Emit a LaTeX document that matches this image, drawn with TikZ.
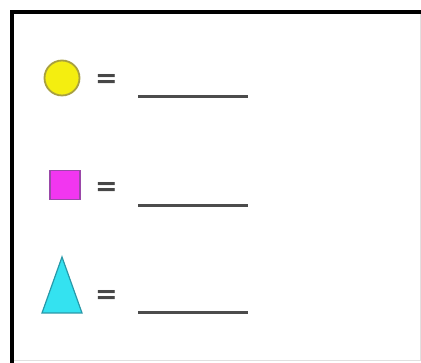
\documentclass[tikz,border=0pt]{standalone}
\usepackage{fontspec}
\usepackage{tikz}
\usetikzlibrary{positioning}
\newfontfamily\eqfont{DejaVu Sans}
\definecolor{dotfill}{HTML}{F4EE10}
\definecolor{dotline}{HTML}{A8A040}
\definecolor{boxfill}{HTML}{F236F0}
\definecolor{boxline}{HTML}{9A48A8}
\definecolor{conefill}{HTML}{34E2F0}
\definecolor{coneline}{HTML}{2898A8}
\tikzset{
  keyframe/.style={line width=4pt, black},
  eqsign/.style={inner sep=0pt, font=\eqfont\bfseries\fontsize{27}{27}\selectfont, text=black!72},
  blank/.style={line width=3pt, black!70},
}

\begin{document}
\begin{tikzpicture}[x=1pt, y=-1pt]
\useasboundingbox (0,0) rectangle (421,363);
% frame
\draw[black!12, line width=1pt] (420,12.5) -- (420,361) -- (12,361);
\draw[keyframe] (12,363) -- (12,12.5) -- (421,12.5);
% key shapes
\node[circle, draw=dotline, fill=dotfill, line width=1.8pt, minimum size=35pt, inner sep=0pt] (dot) at (62,78) {};
\node[rectangle, draw=boxline, fill=boxfill, line width=1.2pt, minimum width=30pt, minimum height=29pt, inner sep=0pt] (box) at (65,185) {};
\draw[coneline, fill=conefill, line width=1.2pt] (42,313) coordinate (coneL) -- (62,257) coordinate (coneT) -- (82,313) coordinate (coneR) -- cycle;
% equals signs
\node[eqsign] (eq1) at (106.5,81) {=};
\node[eqsign] (eq2) at (106.5,189) {=};
\node[eqsign] (eq3) at (106.5,297) {=};
% answer lines
\foreach \y/\n in {97/1, 206/2, 313/3} {
  \coordinate (blank\n a) at (138,\y);
  \coordinate (blank\n b) at (248,\y);
  \draw[blank] (blank\n a) -- (blank\n b);
}
\end{tikzpicture}
\end{document}
